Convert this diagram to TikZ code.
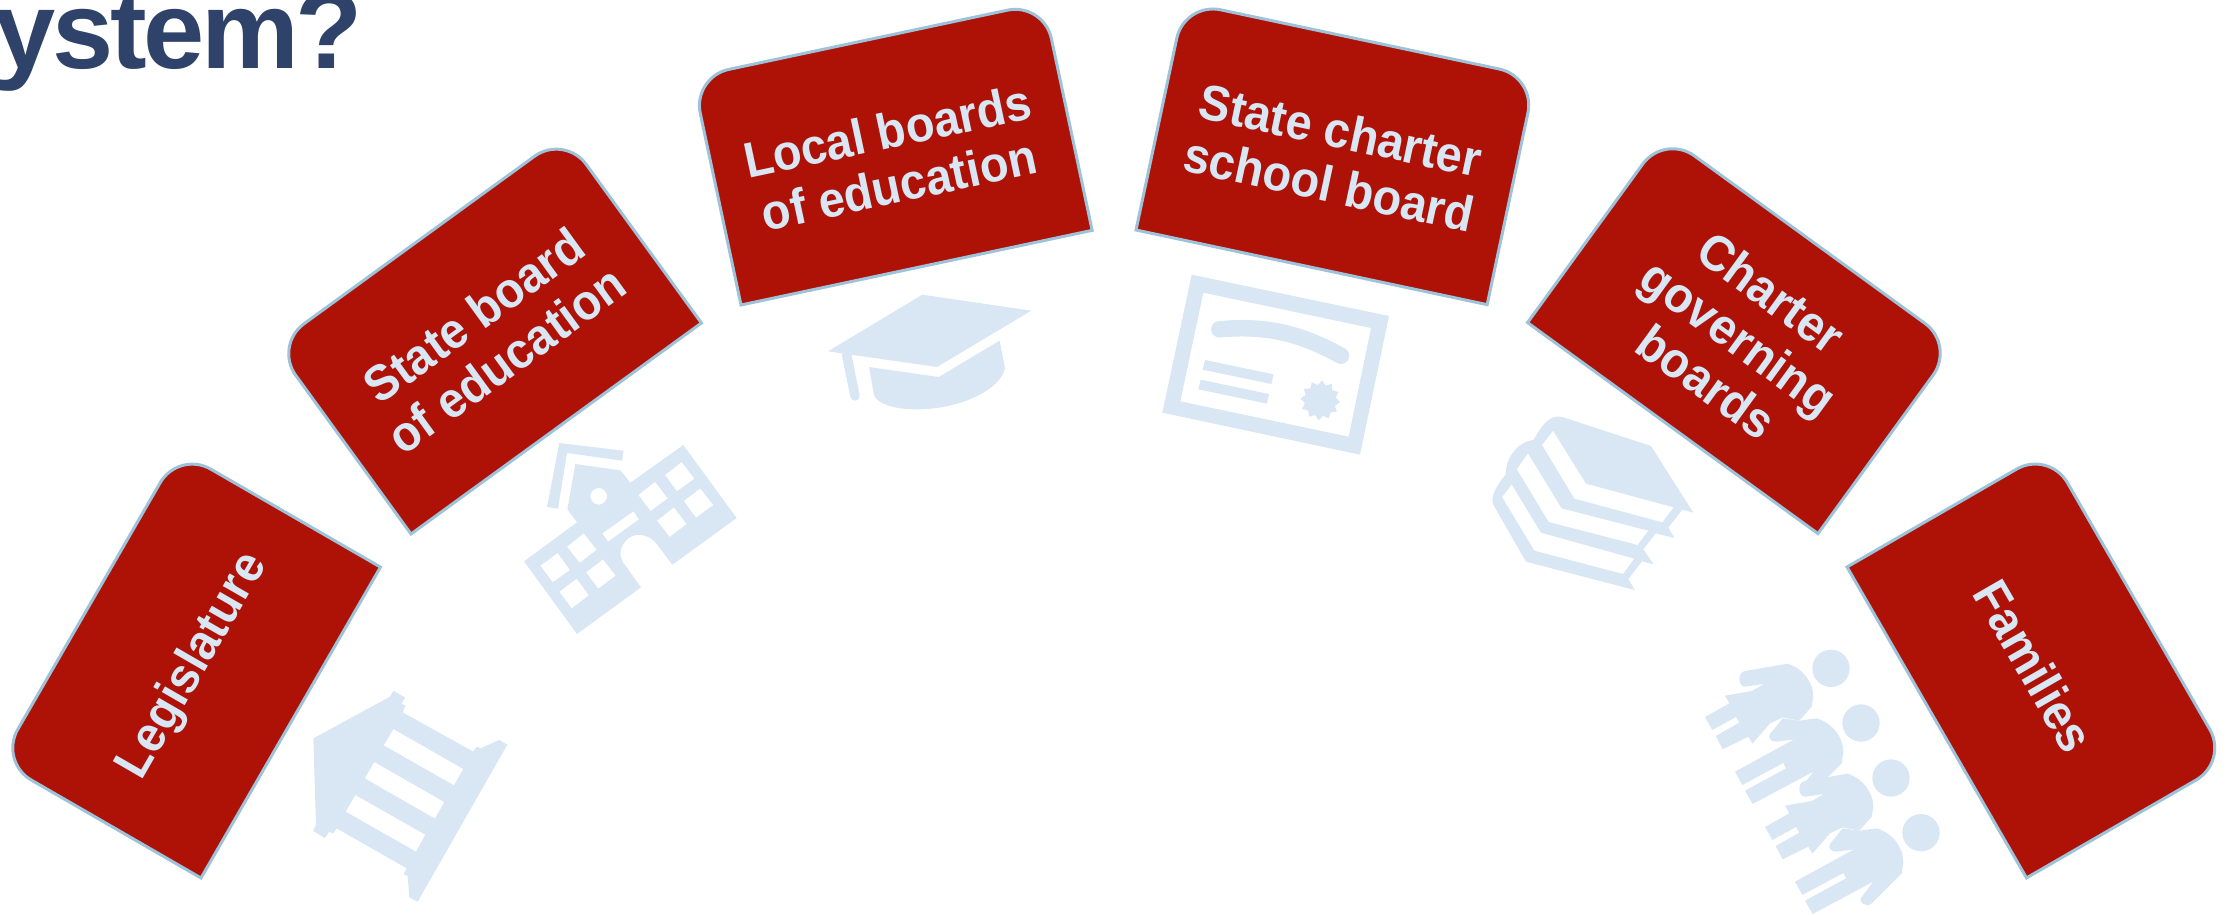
\documentclass[tikz,border=0pt]{standalone}
\usepackage{fontspec}
\setmainfont{Liberation Sans}
\newfontfamily\cardfont[FakeStretch=0.94]{Liberation Sans Bold}
\newfontfamily\titlefont[LetterSpace=-3]{Liberation Sans Bold}
\definecolor{cardred}{HTML}{AE1206}
\definecolor{cardedge}{HTML}{9DC3DA}
\definecolor{iconblue}{HTML}{D9E7F4}
\definecolor{titleblue}{HTML}{2F4269}
\tikzset{
  cardshape/.style={fill=cardred,draw=cardedge,line width=3pt,line join=miter},
  cardtext/.style={text=iconblue,font=\cardfont\fontsize{50}{55}\selectfont,align=center,inner sep=0pt},
  titletext/.style={text=titleblue,font=\titlefont\fontsize{110}{110}\selectfont,inner sep=0pt,anchor=base west},
  iconfill/.style={fill=iconblue,draw=none,even odd rule},
  zoomed/.style 2 args={shift={(#1,#2)},x=0.33333pt,y=-0.33333pt}
}
\newcommand{\cardat}[5]{%
  \begin{scope}[shift={(#2)},rotate=#3]
    \draw[cardshape] (0,0) [rounded corners=37pt] -- (0,-233) -- (359,-233) [sharp corners] -- (359,0) -- cycle;
    \node[cardtext,rotate=#3] (#1) at (179.5,-116.5+#4) {#5};
  \end{scope}}
\begin{document}
\begin{tikzpicture}[x=1pt,y=-1pt]
\useasboundingbox (0,0) rectangle (2228,914);
\node[titletext] (title) at (-6,68) {ystem?};
\cardat{legis}{201,878}{60}{4}{Legislature}
\cardat{stateboard}{411,534}{36}{4}{State board\\of education}
\cardat{local}{741,305}{12}{4}{Local boards\\of education}
\cardat{charterboard}{1136,230}{-12}{4}{State charter\\school board}
\cardat{governing}{1527.5,322.6}{-36}{4}{Charter\\governing\\boards}
\cardat{families}{1847,567}{-60}{4}{Families}
% temple
\begin{scope}[zoomed={280}{660}]
\fill[iconfill] (100,235) -- (330,110) -- (340,92) -- (375,112) -- (365,132) -- (377,137) -- (368,157) -- (580,275) -- (590,260) -- (602,265) -- (657,240) -- (682,254) -- (413,725) -- (388,712) -- (383,648) -- (371,643) -- (380,625) -- (170,505) -- (160,520) -- (147,516) -- (135,534) -- (99,513) -- (108,495) -- cycle
 (340,207) -- (550,327) -- (522,376) -- (311,256) -- cycle
 (283,306) -- (493,426) -- (465,476) -- (254,355) -- cycle
 (226,405) -- (436,524) -- (408,575) -- (197,455) -- cycle;
\end{scope}
% school
\begin{scope}[zoomed={500}{420}]
\fill[iconfill] (72,424) -- (231,307) -- (202,268) -- (226,132) -- (361,151) -- (391,188) -- (550,75) -- (710,294) -- (517,434) -- (470,372) .. controls (450,345) and (410,335) .. (385,355) .. controls (360,375) and (355,405) .. (370,428) -- (423,502) -- (231,642) -- cycle
 (296,229) circle[radius=25]
 (400,274) -- (417,298) -- (324,365) -- (307,340) -- cycle
 (173,399) -- (210,450) -- (158,487) -- (121,437) -- cycle
 (251,340) -- (290,389) -- (239,429) -- (201,380) -- cycle
 (309,418) -- (347,467) -- (295,506) -- (258,457) -- cycle
 (230,476) -- (267,526) -- (215,565) -- (178,515) -- cycle
 (465,185) -- (503,235) -- (452,273) -- (415,225) -- cycle
 (545,126) -- (583,176) -- (531,214) -- (495,165) -- cycle
 (522,262) -- (560,312) -- (509,351) -- (471,302) -- cycle
 (601,205) -- (640,255) -- (588,293) -- (551,243) -- cycle;
\fill[iconfill] (178,69) -- (371,92) -- (366,122) -- (201,99) -- (174,266) -- (141,261) -- cycle;
\end{scope}
% cap
\begin{scope}[zoomed={810}{270}]
\fill[iconfill] (337,74) -- (664,122) -- (381,291) -- (54,244) -- cycle;
\draw[iconblue,line width=9.5pt,line cap=round] (110,255) -- (135,378);
\fill[iconfill] (177,291) -- (386,321) -- (569,212) -- (585,295) .. controls (570,360) and (450,418) .. (320,418) .. controls (250,418) and (200,400) .. (192,375) -- cycle;
\end{scope}
% certificate
\begin{scope}[zoomed={1150}{260}]
\fill[iconfill] (125,44) -- (717,168) -- (630,584) -- (37,458) -- cycle
 (160,98) -- (663,204) -- (596,530) -- (91,424) -- cycle;
\draw[iconblue,line width=16.5pt,line cap=round] (208,208) .. controls (350,195) and (450,220) .. (573,287);
\fill[iconfill] (165,300) -- (371,343) -- (364,372) -- (158,329) -- cycle
 (152,359) -- (357,402) -- (351,431) -- (145,388) -- cycle;
\fill[iconfill,shift={(511,421)}] (5:60) \foreach \i in {1,...,23}{ -- ({\i*15+5}:{60-13*mod(\i,2)})} -- cycle;
\end{scope}
% books
\begin{scope}[zoomed={1480}{400}]
\fill[iconfill] (250,52) -- (513,138) -- (640,338) -- (607,329) -- (565,382) -- (583,414) -- (527,400) -- (490,448) -- (521,493) -- (486,484) -- (445,537) -- (464,570) -- (138,485) -- (42,318) .. controls (30,295) and (40,270) .. (78,222) .. controls (75,180) and (110,125) .. (160,120) .. controls (185,80) and (205,40) .. (250,52) -- cycle
 (219,92) -- (318,251) -- (581,322) -- (547,367) -- (283,296) -- (186,135) -- cycle
 (144,160) -- (245,325) -- (505,392) -- (473,435) -- (206,366) -- (110,207) -- cycle
 (95,253) -- (183,398) -- (463,476) -- (429,522) -- (163,452) -- (66,291) -- cycle;
\end{scope}
% families
\begin{scope}[zoomed={1700}{640}]
\foreach \cx/\cy in {393/85,483/249,573/414,663/578}{\fill[iconfill] (\cx,\cy) circle[radius=56];}
\foreach \ox/\oy in {0/0,180/330}{
\fill[iconfill,shift={(\ox,\oy)}] (135,93) -- (262,71) .. controls (310,85) and (340,130) .. (340,170) -- (335,200) -- (298,242) -- (248,232) -- (210,250) -- (157,311) -- (145,290) -- (68,328) -- (47,288) -- (118,248) -- (108,231) -- (37,270) -- (15,231) -- (88,190) -- (75,167) -- (155,153) -- (192,132) -- (135,140) .. controls (115,140) and (110,97) .. (135,93) -- cycle;
\fill[iconfill,shift={(\ox,\oy)}] (105,395) -- (282,298) -- (228,305) .. controls (212,305) and (203,292) .. (210,282) -- (248,235) -- (298,242) -- (350,235) .. controls (400,250) and (430,295) .. (430,335) -- (425,370) -- (335,460) .. controls (320,475) and (295,455) .. (302,445) -- (340,395) -- (158,492) -- (135,452) -- (258,385) -- (250,369) -- (127,435) -- cycle;
}
\end{scope}
\end{tikzpicture}
\end{document}
